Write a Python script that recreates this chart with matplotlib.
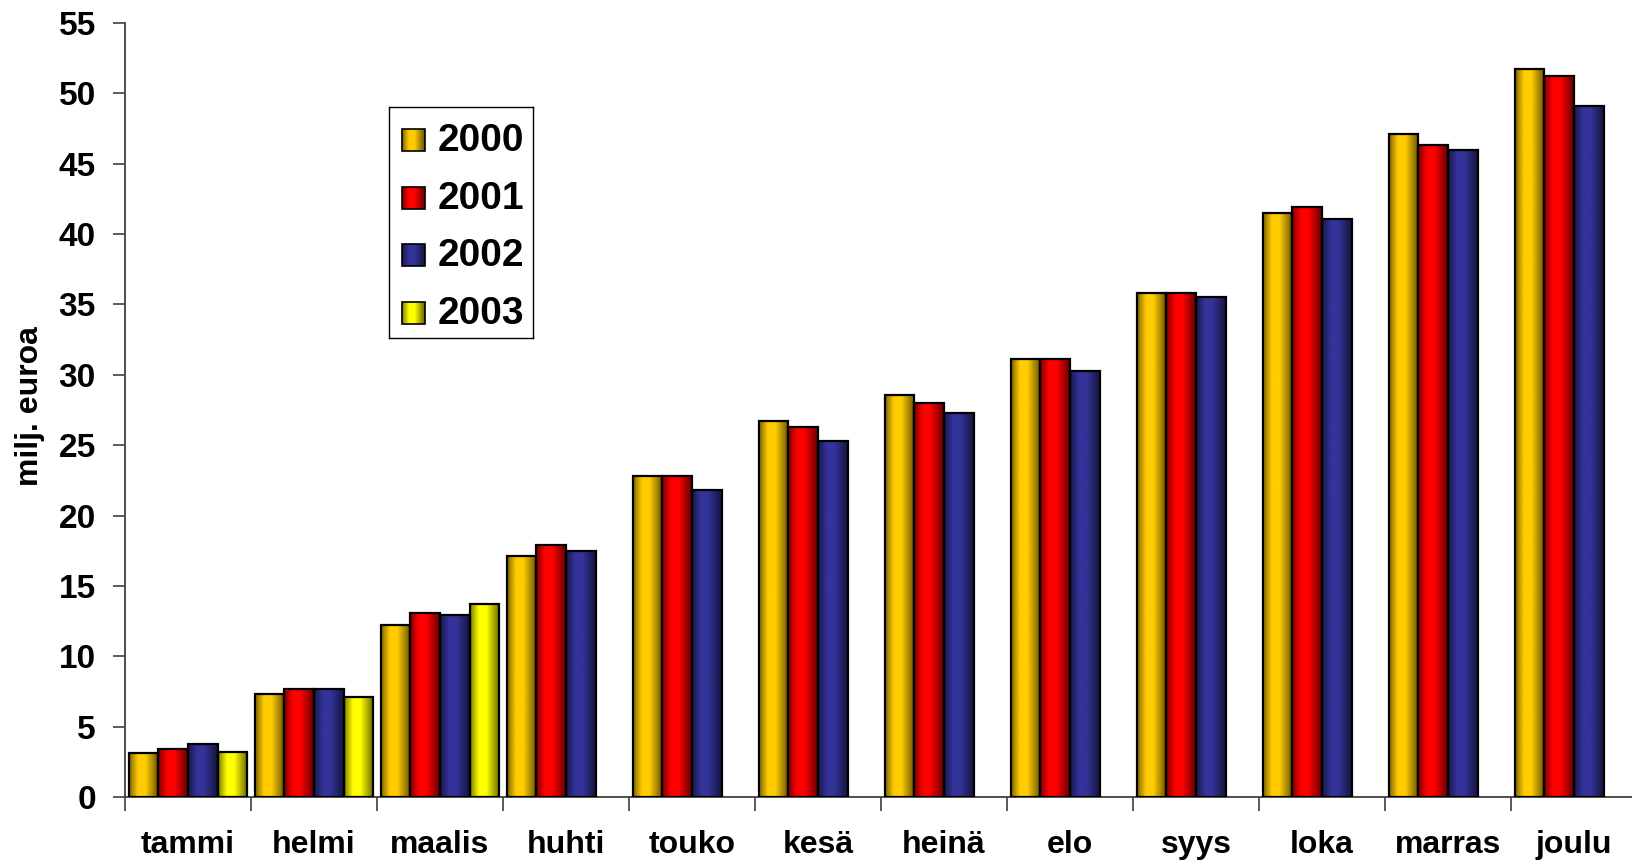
import numpy as np
import matplotlib
matplotlib.use("Agg")
import matplotlib.pyplot as plt
from matplotlib.colors import to_rgb
from matplotlib.patches import Rectangle

plt.rcParams['font.family'] = ['Liberation Sans', 'DejaVu Sans']

months = ["tammi", "helmi", "maalis", "huhti", "touko", "kesä",
          "heinä", "elo", "syys", "loka", "marras", "joulu"]
years = ["2000", "2001", "2002", "2003"]
v2000 = [3.1, 7.3, 12.2, 17.1, 22.8, 26.7, 28.6, 31.1, 35.8, 41.5, 47.1, 51.7]
v2001 = [3.4, 7.7, 13.1, 17.9, 22.8, 26.3, 28.0, 31.1, 35.8, 41.9, 46.3, 51.2]
v2002 = [3.8, 7.7, 12.9, 17.5, 21.8, 25.3, 27.3, 30.3, 35.5, 41.1, 46.0, 49.1]
v2003 = [3.2, 7.1, 13.7]
series = [v2000, v2001, v2002, v2003]
colors = ["#FFCC00", "#FF0000", "#333399", "#FFFF00"]
yticks = [0, 5, 10, 15, 20, 25, 30, 35, 40, 45, 50, 55]


def gradient(color, n=64):
    t = np.linspace(0, 1, n)
    shade = np.interp(t, [0, 0.3, 0.55, 1.0], [0.5, 1.0, 1.0, 0.4])
    rgb = np.array(to_rgb(color))
    img = shade[:, None] * rgb[None, :]
    return img[None, :, :]


W, H = 1632, 861
fig = plt.figure(figsize=(W / 100, H / 100), dpi=100)
ax = fig.add_axes([125 / W, 1 - 797 / H, 1512 / W, 774 / H])

bw = 0.235
for si, (vals, col) in enumerate(zip(series, colors)):
    img = gradient(col)
    for i, v in enumerate(vals):
        x0 = i - 2 * bw + si * bw
        ax.imshow(img, extent=[x0, x0 + bw, 0, v], aspect='auto',
                  interpolation='bilinear', zorder=2)
        ax.add_patch(Rectangle((x0, 0), bw, v, facecolor='none',
                               edgecolor='black', linewidth=1.6, zorder=3))

ax.set_xlim(-0.5, 11.5)
ax.set_ylim(0, 55)
ax.set_yticks(yticks)
ax.set_yticklabels([str(t) for t in yticks], fontsize=24, fontweight='bold')
ax.set_xticks(range(12))
ax.set_xticklabels(months, fontsize=23, fontweight='bold')
ax.set_xticks(np.arange(-0.5, 12, 1), minor=True)
ax.tick_params(axis='x', which='major', length=0, pad=24)
ax.tick_params(axis='x', which='minor', length=10, width=1.2, color='#404040')
ax.tick_params(axis='y', length=9, width=1.2, color='#404040', pad=12)
for s in ['top', 'right']:
    ax.spines[s].set_visible(False)
for s in ['left', 'bottom']:
    ax.spines[s].set_color('#404040')
    ax.spines[s].set_linewidth(1.3)
ax.set_ylabel("milj. euroa", fontsize=23, fontweight='bold', va='center')
ax.yaxis.set_label_coords(-0.063, 0.505)

# legend
lx0, ly0, lx1, ly1 = 389, 107, 533, 338
lax = fig.add_axes([lx0 / W, 1 - ly1 / H, (lx1 - lx0) / W, (ly1 - ly0) / H])
lax.set_xticks([])
lax.set_yticks([])
for s in lax.spines.values():
    s.set_linewidth(1.0)
    s.set_color('black')
centers = [140, 198, 255, 313]
for yr, col, cy in zip(years, colors, centers):
    c = cy - ly0
    lax.imshow(gradient(col), extent=[13, 36, c + 11, c - 11], aspect='auto',
               interpolation='bilinear')
    lax.add_patch(Rectangle((13, c - 11), 23, 22, facecolor='none',
                            edgecolor='black', linewidth=1.2))
    lax.text(49, c + 1, yr, fontsize=28, fontweight='bold', va='center', ha='left')
lax.set_xlim(0, lx1 - lx0)
lax.set_ylim(ly1 - ly0, 0)

fig.savefig("out.png", dpi=100)
